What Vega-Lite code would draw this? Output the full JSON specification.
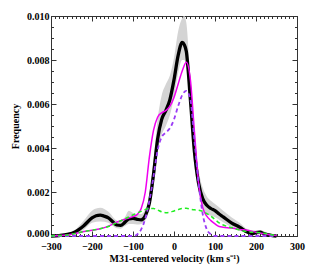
{
  "$schema": "https://vega.github.io/schema/vega-lite/v6.json",
  "width": 246,
  "height": 220,
  "autosize": "none",
  "padding": {"left": 51, "top": 16, "right": 17, "bottom": 33},
  "background": "white",
  "config": {
    "view": {"stroke": "#333", "strokeWidth": 1},
    "axis": {
      "labelFont": "Liberation Serif", "labelFontWeight": "bold", "labelFontSize": 10, "labelColor": "black",
      "titleFont": "Liberation Serif", "titleFontWeight": "bold", "titleFontSize": 10, "titleColor": "black",
      "domainColor": "#333", "tickColor": "#333", "grid": false
    }
  },
  "datasets": {
    "band": [
      {"v": -300, "lo": 0, "hi": 0.00002},
      {"v": -260, "lo": 0.00002, "hi": 0.00012},
      {"v": -240, "lo": 0.0001, "hi": 0.0003},
      {"v": -220, "lo": 0.00028, "hi": 0.0007},
      {"v": -200, "lo": 0.0006, "hi": 0.00115},
      {"v": -180, "lo": 0.00066, "hi": 0.00128},
      {"v": -160, "lo": 0.0006, "hi": 0.0011},
      {"v": -140, "lo": 0.00035, "hi": 0.0007},
      {"v": -130, "lo": 0.00033, "hi": 0.00065},
      {"v": -120, "lo": 0.00045, "hi": 0.00085},
      {"v": -110, "lo": 0.00055, "hi": 0.00115},
      {"v": -100, "lo": 0.00055, "hi": 0.00105},
      {"v": -90, "lo": 0.00052, "hi": 0.001},
      {"v": -80, "lo": 0.00055, "hi": 0.001},
      {"v": -70, "lo": 0.0007, "hi": 0.0012},
      {"v": -60, "lo": 0.0012, "hi": 0.0019},
      {"v": -50, "lo": 0.0023, "hi": 0.0034},
      {"v": -40, "lo": 0.0038, "hi": 0.0053},
      {"v": -30, "lo": 0.0046, "hi": 0.0064},
      {"v": -20, "lo": 0.005, "hi": 0.0069},
      {"v": -10, "lo": 0.0055, "hi": 0.0073},
      {"v": 0, "lo": 0.0063, "hi": 0.0081},
      {"v": 10, "lo": 0.0074, "hi": 0.0093},
      {"v": 20, "lo": 0.008, "hi": 0.0099},
      {"v": 25, "lo": 0.008, "hi": 0.01},
      {"v": 30, "lo": 0.0077, "hi": 0.0097},
      {"v": 40, "lo": 0.0057, "hi": 0.0071},
      {"v": 50, "lo": 0.0032, "hi": 0.0046},
      {"v": 60, "lo": 0.002, "hi": 0.003},
      {"v": 70, "lo": 0.0013, "hi": 0.0022},
      {"v": 80, "lo": 0.001, "hi": 0.0018},
      {"v": 90, "lo": 0.00092, "hi": 0.0016},
      {"v": 100, "lo": 0.00085, "hi": 0.00145},
      {"v": 120, "lo": 0.00062, "hi": 0.00115},
      {"v": 140, "lo": 0.0004, "hi": 0.00085},
      {"v": 160, "lo": 0.00025, "hi": 0.0006},
      {"v": 180, "lo": 0.0001, "hi": 0.0003},
      {"v": 200, "lo": 0.00008, "hi": 0.00025},
      {"v": 210, "lo": 0.0001, "hi": 0.00027},
      {"v": 220, "lo": 0.00005, "hi": 0.0002},
      {"v": 240, "lo": 0, "hi": 0.00006},
      {"v": 250, "lo": 0, "hi": 0.00002}
    ],
    "black": [
      {"v": -300, "f": 0}, {"v": -280, "f": 0.00002}, {"v": -260, "f": 0.00007}, {"v": -240, "f": 0.0002},
      {"v": -220, "f": 0.00047}, {"v": -200, "f": 0.00082}, {"v": -190, "f": 0.00092}, {"v": -180, "f": 0.00095},
      {"v": -170, "f": 0.0009}, {"v": -160, "f": 0.00082}, {"v": -150, "f": 0.00066}, {"v": -140, "f": 0.0005},
      {"v": -130, "f": 0.00048}, {"v": -120, "f": 0.00062}, {"v": -110, "f": 0.00078}, {"v": -100, "f": 0.0008},
      {"v": -90, "f": 0.00076}, {"v": -80, "f": 0.00073}, {"v": -70, "f": 0.00092}, {"v": -60, "f": 0.0015},
      {"v": -50, "f": 0.0028}, {"v": -40, "f": 0.0044}, {"v": -30, "f": 0.0053}, {"v": -20, "f": 0.0057},
      {"v": -10, "f": 0.0062}, {"v": 0, "f": 0.0071}, {"v": 10, "f": 0.0082}, {"v": 20, "f": 0.0088},
      {"v": 25, "f": 0.0087}, {"v": 30, "f": 0.0084}, {"v": 40, "f": 0.0062}, {"v": 50, "f": 0.0038},
      {"v": 60, "f": 0.0024}, {"v": 70, "f": 0.0017}, {"v": 80, "f": 0.0014}, {"v": 90, "f": 0.00125},
      {"v": 100, "f": 0.00115}, {"v": 110, "f": 0.001}, {"v": 120, "f": 0.00087}, {"v": 140, "f": 0.0006},
      {"v": 160, "f": 0.0004}, {"v": 180, "f": 0.00017}, {"v": 190, "f": 0.00011}, {"v": 200, "f": 0.00015},
      {"v": 210, "f": 0.00017}, {"v": 220, "f": 0.0001}, {"v": 230, "f": 0.00005}, {"v": 240, "f": 0.00002},
      {"v": 250, "f": 0}
    ],
    "magenta": [
      {"v": -300, "f": 0}, {"v": -280, "f": 0.00002}, {"v": -260, "f": 0.00005}, {"v": -240, "f": 0.00011},
      {"v": -220, "f": 0.0002}, {"v": -200, "f": 0.00026}, {"v": -180, "f": 0.00033}, {"v": -160, "f": 0.00045},
      {"v": -140, "f": 0.00063}, {"v": -120, "f": 0.00076}, {"v": -100, "f": 0.00088}, {"v": -90, "f": 0.00097},
      {"v": -80, "f": 0.00125}, {"v": -70, "f": 0.002}, {"v": -60, "f": 0.0036}, {"v": -50, "f": 0.0048},
      {"v": -40, "f": 0.0054}, {"v": -30, "f": 0.0056}, {"v": -20, "f": 0.0057}, {"v": -10, "f": 0.0059},
      {"v": 0, "f": 0.0063}, {"v": 10, "f": 0.0069}, {"v": 20, "f": 0.0075}, {"v": 30, "f": 0.0079},
      {"v": 40, "f": 0.0071}, {"v": 50, "f": 0.0047}, {"v": 60, "f": 0.0024}, {"v": 70, "f": 0.0013},
      {"v": 80, "f": 0.0009}, {"v": 90, "f": 0.0007}, {"v": 100, "f": 0.00055}, {"v": 110, "f": 0.00043},
      {"v": 120, "f": 0.0004}, {"v": 140, "f": 0.00036}, {"v": 160, "f": 0.0003}, {"v": 180, "f": 0.00026},
      {"v": 200, "f": 0.00017}, {"v": 220, "f": 0.0001}, {"v": 240, "f": 0.00004}, {"v": 250, "f": 0.00002}
    ],
    "purple": [
      {"v": -300, "f": 0}, {"v": -200, "f": 0}, {"v": -100, "f": 0}, {"v": -90, "f": 0.00007},
      {"v": -80, "f": 0.0003}, {"v": -70, "f": 0.0008}, {"v": -60, "f": 0.0016}, {"v": -50, "f": 0.0027},
      {"v": -40, "f": 0.0039}, {"v": -30, "f": 0.0045}, {"v": -20, "f": 0.0047}, {"v": -10, "f": 0.0049},
      {"v": 0, "f": 0.0053}, {"v": 10, "f": 0.0059}, {"v": 20, "f": 0.0064}, {"v": 30, "f": 0.0066},
      {"v": 40, "f": 0.0062}, {"v": 50, "f": 0.0043}, {"v": 60, "f": 0.0024}, {"v": 70, "f": 0.001},
      {"v": 80, "f": 0.0003}, {"v": 90, "f": 0.00008}, {"v": 100, "f": 0}, {"v": 180, "f": 0}, {"v": 250, "f": 0}
    ],
    "green": [
      {"v": -300, "f": 0}, {"v": -280, "f": 0.00002}, {"v": -260, "f": 0.00005}, {"v": -240, "f": 0.00011},
      {"v": -220, "f": 0.0002}, {"v": -200, "f": 0.00026}, {"v": -180, "f": 0.00033}, {"v": -160, "f": 0.00043},
      {"v": -140, "f": 0.0006}, {"v": -120, "f": 0.00078}, {"v": -100, "f": 0.00096}, {"v": -80, "f": 0.00112},
      {"v": -60, "f": 0.00125}, {"v": -50, "f": 0.00125}, {"v": -40, "f": 0.00118}, {"v": -30, "f": 0.0011},
      {"v": -20, "f": 0.00106}, {"v": -10, "f": 0.00108}, {"v": 0, "f": 0.00114}, {"v": 10, "f": 0.0012},
      {"v": 20, "f": 0.00125}, {"v": 30, "f": 0.00126}, {"v": 40, "f": 0.00122}, {"v": 50, "f": 0.00119},
      {"v": 60, "f": 0.00117}, {"v": 70, "f": 0.00112}, {"v": 80, "f": 0.00102}, {"v": 90, "f": 0.0009},
      {"v": 100, "f": 0.00075}, {"v": 110, "f": 0.0006}, {"v": 120, "f": 0.0005}, {"v": 140, "f": 0.00038},
      {"v": 160, "f": 0.00027}, {"v": 180, "f": 0.00019}, {"v": 200, "f": 0.00016}, {"v": 210, "f": 0.00015},
      {"v": 220, "f": 0.00012}, {"v": 240, "f": 0.00005}, {"v": 250, "f": 0.00003}
    ]
  },
  "resolve": {"axis": {"x": "independent", "y": "independent"}},
  "layer": [
    {
      "data": {"name": "band"},
      "mark": {"type": "area", "color": "#d4d4d4", "interpolate": "monotone"},
      "encoding": {
        "x": {"field": "v", "type": "quantitative", "scale": {"domain": [-300, 300], "nice": false, "zero": false},
          "axis": {"orient": "bottom", "title": "M31-centered velocity (km s⁻¹)", "titlePadding": 0,
            "values": [-300,-290,-280,-270,-260,-250,-240,-230,-220,-210,-200,-190,-180,-170,-160,-150,-140,-130,-120,-110,-100,-90,-80,-70,-60,-50,-40,-30,-20,-10,0,10,20,30,40,50,60,70,80,90,100,110,120,130,140,150,160,170,180,190,200,210,220,230,240,250,260,270,280,290,300],
            "labelExpr": "datum.value % 100 === 0 ? format(datum.value, 'd') : ''",
            "tickSize": {"condition": {"test": "datum.value % 100 === 0", "value": -5}, "value": -2.5},
            "labelPadding": 10, "labelFlush": false, "labelOverlap": false}},
        "y": {"field": "lo", "type": "quantitative", "scale": {"domain": [0, 0.01], "nice": false},
          "axis": {"orient": "left", "title": "Frequency", "titlePadding": 6,
            "values": [0,0.0005,0.001,0.0015,0.002,0.0025,0.003,0.0035,0.004,0.0045,0.005,0.0055,0.006,0.0065,0.007,0.0075,0.008,0.0085,0.009,0.0095,0.01],
            "labelExpr": "round(datum.value*10000) % 20 === 0 ? format(datum.value, '.3f') : ''",
            "tickSize": {"condition": {"test": "round(datum.value*10000) % 20 === 0", "value": -5}, "value": -2.5},
            "labelOffset": {"condition": {"test": "datum.value === 0", "value": -2.5}, "value": 0},
            "labelPadding": 7, "labelFlush": false, "labelOverlap": false}},
        "y2": {"field": "hi"}
      }
    },
    {
      "data": {"name": "black"},
      "mark": {"type": "line", "color": "black", "strokeWidth": 3.3, "interpolate": "monotone"},
      "encoding": {
        "x": {"field": "v", "type": "quantitative",
          "axis": {"orient": "top", "title": null, "labels": false,
            "values": [-300,-290,-280,-270,-260,-250,-240,-230,-220,-210,-200,-190,-180,-170,-160,-150,-140,-130,-120,-110,-100,-90,-80,-70,-60,-50,-40,-30,-20,-10,0,10,20,30,40,50,60,70,80,90,100,110,120,130,140,150,160,170,180,190,200,210,220,230,240,250,260,270,280,290,300],
            "tickSize": {"condition": {"test": "datum.value % 100 === 0", "value": -5}, "value": -2.5}}},
        "y": {"field": "f", "type": "quantitative",
          "axis": {"orient": "right", "title": null, "labels": false,
            "values": [0,0.0005,0.001,0.0015,0.002,0.0025,0.003,0.0035,0.004,0.0045,0.005,0.0055,0.006,0.0065,0.007,0.0075,0.008,0.0085,0.009,0.0095,0.01],
            "tickSize": {"condition": {"test": "round(datum.value*10000) % 20 === 0", "value": -5}, "value": -2.5}}}
      }
    },
    {
      "data": {"name": "magenta"},
      "mark": {"type": "line", "color": "#f000f0", "strokeWidth": 1.5, "interpolate": "monotone"},
      "encoding": {
        "x": {"field": "v", "type": "quantitative", "axis": null},
        "y": {"field": "f", "type": "quantitative", "axis": null}
      }
    },
    {
      "data": {"name": "purple"},
      "mark": {"type": "line", "color": "#9b3cf5", "strokeWidth": 1.8, "strokeDash": [4, 3], "interpolate": "monotone"},
      "encoding": {
        "x": {"field": "v", "type": "quantitative", "axis": null},
        "y": {"field": "f", "type": "quantitative", "axis": null}
      }
    },
    {
      "data": {"name": "green"},
      "mark": {"type": "line", "color": "#22ee22", "strokeWidth": 1.5, "strokeDash": [4, 3], "interpolate": "monotone"},
      "encoding": {
        "x": {"field": "v", "type": "quantitative", "axis": null},
        "y": {"field": "f", "type": "quantitative", "axis": null}
      }
    },
    {
      "mark": {"type": "text", "font": "Liberation Serif", "fontWeight": "bold", "fontSize": 9, "align": "left", "baseline": "middle", "color": "black"},
      "encoding": {
        "x": {"datum": -257, "type": "quantitative", "axis": null},
        "y": {"datum": 0.0091, "type": "quantitative", "axis": null},
        "text": {"value": "Zone 3"}
      }
    }
  ]
}
